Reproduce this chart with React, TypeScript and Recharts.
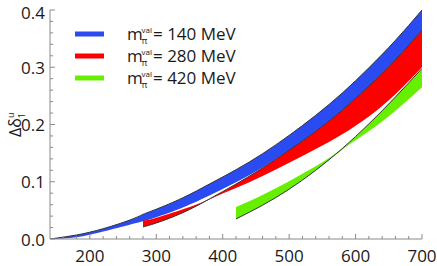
import { ComposedChart, Area, Line, XAxis, YAxis } from 'recharts';

// x grid (MeV) and band edges
const blueX = [140, 180, 220, 260, 280, 300, 340, 380, 420, 460, 500, 540, 580, 620, 660, 700];
const blueUpper = [0, 0.007, 0.018, 0.033, 0.043, 0.052, 0.072, 0.096, 0.121, 0.149, 0.181, 0.216, 0.255, 0.299, 0.347, 0.4];
const blueLower = [0, 0.003, 0.013, 0.025, 0.031, 0.038, 0.055, 0.076, 0.099, 0.125, 0.155, 0.188, 0.225, 0.267, 0.313, 0.365];

const redX = [280, 300, 340, 380, 420, 460, 500, 540, 580, 620, 660, 700];
const redCentral = [0.021, 0.028, 0.046, 0.07, 0.096, 0.124, 0.155, 0.188, 0.225, 0.267, 0.313, 0.365];
const redEdge = [0.032, 0.037, 0.052, 0.069, 0.089, 0.11, 0.133, 0.157, 0.183, 0.214, 0.253, 0.3];

const greenX = [420, 460, 500, 540, 580, 620, 660, 700];
const greenCentral = [0.035, 0.059, 0.087, 0.12, 0.158, 0.201, 0.248, 0.298];
const greenEdge = [0.056, 0.077, 0.101, 0.127, 0.156, 0.188, 0.224, 0.265];

const xTicks = [160, 180, 200, 220, 240, 260, 280, 300, 320, 340, 360, 380, 400, 420, 440, 460, 480, 500, 520, 540, 560, 580, 600, 620, 640, 660, 680, 700];
const yTicks = [0, 0.02, 0.04, 0.06, 0.08, 0.1, 0.12, 0.14, 0.16, 0.18, 0.2, 0.22, 0.24, 0.26, 0.28, 0.3, 0.32, 0.34, 0.36, 0.38, 0.4];

const legendItems = [
  { label: '= 140 MeV', color: '#2B4BF2' },
  { label: '= 280 MeV', color: '#FE0000' },
  { label: '= 420 MeV', color: '#66F000' },
];

const font = "'Open Sans', sans-serif";
const frame = '#8a8a8a';
const ink = '#1a1a1a';

const band = (xs: number[], a: number[], b: number[]) =>
  xs.map((x, i) => ({ x, band: [Math.min(a[i], b[i]), Math.max(a[i], b[i])], line: a[i] }));

const blueData = band(blueX, blueUpper, blueLower);
const redData = band(redX, redCentral, redEdge);
const greenData = band(greenX, greenCentral, greenEdge);

const isMajorX = (v: number) => v % 100 === 0;
const isMajorY = (v: number) => Math.abs(v * 10 - Math.round(v * 10)) < 1e-6;

const BottomTick = (props: any) => {
  const { x, y, payload } = props;
  const major = isMajorX(payload.value);
  return (
    <g>
      <line x1={x} y1={y} x2={x} y2={y - (major ? 5 : 3)} stroke={frame} />
      {major && (
        <text x={x} y={y + 23} textAnchor="middle" fontSize={17} fontFamily={font} fill={ink}>
          {payload.value}
        </text>
      )}
    </g>
  );
};

const TopTick = (props: any) => {
  const { x, y, payload } = props;
  const major = isMajorX(payload.value);
  return <line x1={x} y1={y} x2={x} y2={y + (major ? 5 : 3)} stroke={frame} />;
};

const LeftTick = (props: any) => {
  const { x, y, payload } = props;
  const major = isMajorY(payload.value);
  return (
    <g>
      <line x1={x} y1={y} x2={x + (major ? 5 : 3)} y2={y} stroke={frame} />
      {major && (
        <text x={x - 5} y={Math.max(y + 6.5, 18.5)} textAnchor="end" fontSize={17} fontFamily={font} fill={ink}>
          {payload.value.toFixed(1)}
        </text>
      )}
    </g>
  );
};

const RightTick = (props: any) => {
  const { x, y, payload } = props;
  const major = isMajorY(payload.value);
  return <line x1={x} y1={y} x2={x - (major ? 5 : 3)} y2={y} stroke={frame} />;
};

export default function App() {
  return (
    <div style={{ position: 'absolute', left: 0, top: 0, width: 437, height: 266, background: '#fff' }}>
      <ComposedChart width={437} height={266} margin={{ top: 10, right: 15, bottom: 0, left: 0 }}>
        <XAxis
          xAxisId="b"
          dataKey="x"
          type="number"
          domain={[140, 700]}
          ticks={xTicks}
          interval={0}
          tickSize={0}
          tickMargin={0}
          tickLine={false}
          height={27}
          axisLine={{ stroke: frame }}
          tick={BottomTick}
          allowDataOverflow
        />
        <XAxis
          xAxisId="t"
          orientation="top"
          type="number"
          domain={[140, 700]}
          ticks={xTicks}
          interval={0}
          tickSize={0}
          tickMargin={0}
          tickLine={false}
          height={0}
          axisLine={{ stroke: frame }}
          tick={TopTick}
        />
        <YAxis
          yAxisId="l"
          type="number"
          domain={[0, 0.4]}
          ticks={yTicks}
          interval={0}
          tickSize={0}
          tickMargin={0}
          tickLine={false}
          width={50}
          axisLine={{ stroke: frame }}
          tick={LeftTick}
          allowDataOverflow
        />
        <YAxis
          yAxisId="r"
          orientation="right"
          type="number"
          domain={[0, 0.4]}
          ticks={yTicks}
          interval={0}
          tickSize={0}
          tickMargin={0}
          tickLine={false}
          width={0}
          axisLine={{ stroke: frame }}
          tick={RightTick}
        />
        <Area xAxisId="b" yAxisId="l" data={blueData} dataKey="band" type="natural" stroke="none" fill="#2B4BF2" fillOpacity={1} isAnimationActive={false} />
        <Area xAxisId="b" yAxisId="l" data={redData} dataKey="band" type="natural" stroke="none" fill="#FE0000" fillOpacity={1} isAnimationActive={false} />
        <Area xAxisId="b" yAxisId="l" data={greenData} dataKey="band" type="natural" stroke="none" fill="#66F000" fillOpacity={1} isAnimationActive={false} />
        <Line xAxisId="b" yAxisId="l" data={blueData} dataKey="line" type="natural" stroke="#333" strokeWidth={1} dot={false} isAnimationActive={false} />
        <Line xAxisId="b" yAxisId="l" data={redData} dataKey="line" type="natural" stroke="#333" strokeWidth={1} dot={false} isAnimationActive={false} />
        <Line xAxisId="b" yAxisId="l" data={greenData} dataKey="line" type="natural" stroke="#333" strokeWidth={1} dot={false} isAnimationActive={false} />
      </ComposedChart>
      <svg width={437} height={266} style={{ position: 'absolute', left: 0, top: 0, pointerEvents: 'none' }}>
        <text transform="translate(21,137) rotate(-90)" fontFamily={font} fill={ink} fontSize={16}>
          Δδ
          <tspan fontSize={9} dy={4}>1</tspan>
          <tspan fontSize={9} dx={-5} dy={-11}>u</tspan>
        </text>
        {legendItems.map((item, i) => {
          const cy = 34 + i * 22;
          const base = cy + 5.5;
          return (
            <g key={item.label}>
              <line x1={75} x2={104} y1={cy} y2={cy} stroke={item.color} strokeWidth={5} />
              <text x={127} y={base} fontFamily={font} fontSize={17} fill={ink}>m</text>
              <text x={141.5} y={base - 7} fontFamily={font} fontSize={8} fill={ink}>val</text>
              <text x={141.5} y={base + 4.5} fontFamily={font} fontSize={9} fill={ink}>π</text>
              <text x={153} y={base} fontFamily={font} fontSize={17} fill={ink}>{item.label}</text>
            </g>
          );
        })}
      </svg>
    </div>
  );
}
